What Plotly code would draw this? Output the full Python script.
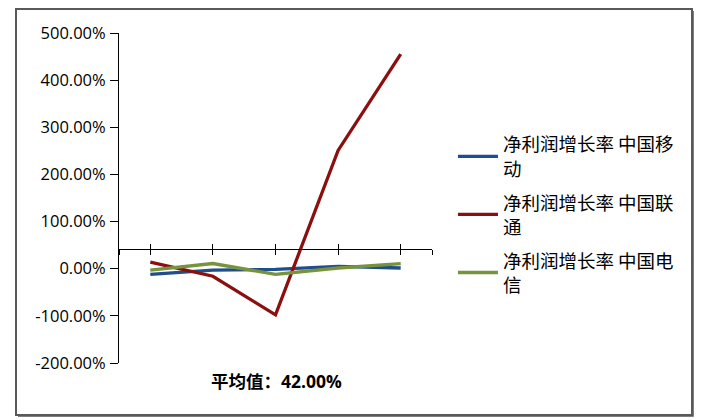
import plotly.graph_objects as go

# ---- data ----
periods = ["P1", "P2", "P3", "P4", "P5"]          # category labels (not shown on the axis)
series_names = ["净利润增长率 中国移<br>动", "净利润增长率 中国联<br>通", "净利润增长率 中国电<br>信"]
mobile = [-12.0, -3.0, -1.5, 5.0, 1.5]            # %
unicom = [14.0, -16.0, -98.0, 251.0, 455.0]       # %
telecom = [-3.0, 11.0, -12.0, 1.5, 11.0]          # %
average_value = 42.0                               # %
y_ticks = [-200, -100, 0, 100, 200, 300, 400, 500]
y_tick_text = ["-200.00%", "-100.00%", "0.00%", "100.00%", "200.00%", "300.00%", "400.00%", "500.00%"]
avg_label = "平均值：42.00%"

colors = ["#1f4e8c", "#8b0f0f", "#77933c"]
xs = list(range(len(periods)))
ymin, ymax = -200, 500

fig = go.Figure()
for name, vals, c in zip(series_names, [mobile, unicom, telecom], colors):
    fig.add_trace(go.Scatter(x=xs, y=vals, mode="lines", name=name,
                             line=dict(color=c, width=3.3), legendgroup=name))

# dummy trace for the overlay axis that draws the upper half of crossing ticks
fig.add_trace(go.Scatter(x=[None], y=[None], xaxis="x2", showlegend=False, hoverinfo="skip"))

axis_pos = (average_value - ymin) / (ymax - ymin)
xtickvals = [-0.5] + xs + [len(xs) - 0.5]
common_x = dict(range=[-0.5, len(xs) - 0.5], showgrid=False, zeroline=False,
                tickvals=xtickvals, ticktext=[""] * len(xtickvals),
                ticklen=5, tickwidth=1, tickcolor="#000000",
                anchor="free", position=axis_pos)

fig.update_layout(
    width=722, height=420,
    margin=dict(l=119, r=290, t=33, b=57, autoexpand=False),
    paper_bgcolor="white", plot_bgcolor="white",
    font=dict(family="Open Sans, Noto Sans CJK SC", color="#000000"),
    xaxis=dict(showline=True, linecolor="#000000", linewidth=1, ticks="outside", **common_x),
    xaxis2=dict(overlaying="x", showline=False, ticks="inside", **common_x),
    yaxis=dict(range=[ymin, ymax], tickvals=y_ticks, ticktext=y_tick_text,
               showgrid=False, zeroline=False, showline=True, linecolor="#000000",
               linewidth=1, ticks="outside", ticklen=8, tickcolor="#000000",
               tickfont=dict(size=16.5, family="Open Sans"), ticklabelstandoff=1),
    legend=dict(x=1.067, y=0.719, xanchor="left", yanchor="top",
                font=dict(size=18.5, family="Noto Sans CJK SC"),
                itemwidth=40, tracegroupgap=7, bgcolor="rgba(0,0,0,0)"),
    showlegend=True,
)

fig.add_annotation(text="<b>" + avg_label + "</b>", xref="paper", yref="paper",
                   x=0.503, y=-0.055, showarrow=False, xanchor="center", yanchor="middle",
                   font=dict(size=17.5, family="Open Sans, Noto Sans CJK SC"))

# chart border (with a slightly heavier right/bottom edge as in the reference)
bx0, bx1 = (16 - 119) / 313, (692 - 119) / 313
by0, by1 = -(415 - 363) / 330, 1 + (33 - 9) / 330
fig.add_shape(type="rect", xref="paper", yref="paper", x0=bx0, x1=bx1, y0=by0, y1=by1,
              line=dict(color="#595959", width=2), layer="below")
fig.add_shape(type="line", xref="paper", yref="paper", x0=bx1 + 1.5 / 313, x1=bx1 + 1.5 / 313,
              y0=by0 - 1.5 / 330, y1=by1 - 2 / 330, line=dict(color="#7f7f7f", width=1), layer="below")
fig.add_shape(type="line", xref="paper", yref="paper", x0=bx0 + 2 / 313, x1=bx1 + 1.5 / 313,
              y0=by0 - 1.5 / 330, y1=by0 - 1.5 / 330, line=dict(color="#7f7f7f", width=1), layer="below")

fig.write_html("out.html", config={"displayModeBar": False},
               post_script="document.body.style.margin='0';")
